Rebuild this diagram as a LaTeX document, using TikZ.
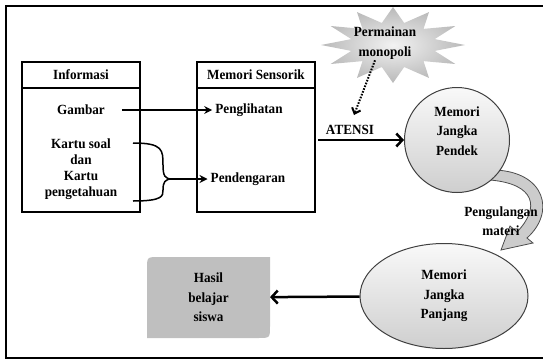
\documentclass[tikz,border=0pt]{standalone}
\usepackage{fontspec}
\setmainfont{Liberation Serif}[FakeStretch=0.94]
\usetikzlibrary{positioning, arrows.meta, shapes.geometric}

\begin{document}
\begin{tikzpicture}
    [
        x=1pt, y=-1pt, node distance=0pt,
        bold_text/.style={font=\bfseries\fontsize{14}{16}\selectfont, align=center, inner sep=1pt},
        mem_text/.style={bold_text, font=\bfseries\fontsize{14}{19.5}\selectfont},
        head_box/.style={rectangle, draw=black, line width=1.5pt, outer sep=0pt, minimum width=118pt, minimum height=26pt, bold_text},
        body_box/.style={rectangle, draw=black, line width=1.5pt, outer sep=0pt, minimum width=118pt, minimum height=124pt},
        mem_node/.style={draw=black!75, line width=1pt, top color=gray!5, bottom color=gray!38, mem_text},
        thin_arrow/.style={-{Stealth[length=8pt, width=8pt]}, line width=1.5pt},
        thick_arrow/.style={-{Straight Barb[length=6pt, width=13pt]}, line width=2.5pt},
    ]
        \useasboundingbox (0,0) rectangle (543,359) ;
        \draw[line width=2pt] (550,6) -- (6,6) -- (6,357.5) -- (550,357.5) ;
        \node[head_box] (info) at (81,75) {Informasi} ;
        \node[body_box] (info_body) [below = of info] {} ;
        \node[head_box] (sensor) at (256,75) {Memori Sensorik} ;
        \node[body_box] (sensor_body) [below = of sensor] {} ;
        \node[bold_text] (gambar) at (81,110) {Gambar} ;
        \node[bold_text] (kartu) at (81,169) {Kartu soal\\dan\\Kartu\\pengetahuan} ;
        \node[bold_text] (penglihatan) at (249,110) {Penglihatan} ;
        \node[bold_text] (pendengaran) at (248,179) {Pendengaran} ;
        \coordinate (brace_top) at (133,143) ;
        \coordinate (brace_bot) at (133,201) ;
        \coordinate (brace_tip) at (172,179) ;
        \draw[thin_arrow, shorten <=16pt, shorten >=2pt] (gambar) -- (penglihatan) ;
        \draw[line width=1.5pt] (brace_top) .. controls (163,143) and (163,150) .. (163,165) .. controls (163,176) and (165,179) .. (brace_tip) ;
        \draw[line width=1.5pt] (brace_bot) .. controls (163,201) and (163,196) .. (163,190) .. controls (163,182) and (165,179) .. (brace_tip) ;
        \draw[thin_arrow, shorten >=2pt] (brace_tip) -- (pendengaran) ;
        \shade[inner color=gray!10, outer color=gray!55] plot[samples at={0,15,...,345}] ({393+72*cos(\x)*(mod(\x,30)==0 ? 1 : 0.6)}, {45+38*sin(\x)*(mod(\x,30)==0 ? 1 : 0.6)}) -- cycle ;
        \node[mem_text] (game) at (385,43) {Permainan\\monopoli} ;
        \filldraw[fill=gray!40, draw=black!70, line width=0.8pt] (495,170) .. controls (545,172) and (556,212) .. (527,238) -- (533,243) -- (501,250) -- (510,226) -- (517,232) .. controls (540,208) and (536,184) .. (490,180) -- cycle ;
        \node[mem_node, circle, minimum size=105pt, label={[mem_text, yshift=9pt]center:{Memori\\Jangka\\Pendek}}] (stm) at (457,140) {} ;
        \node[mem_node, ellipse, minimum width=168pt, minimum height=105pt] (ltm) at (444,296) {Memori\\Jangka\\Panjang} ;
        \node[mem_text] (ulang) at (501,221) {Pengulangan\\materi} ;
        \fill[gray!50] (147,338) -- (147,269) .. controls (147,257) .. (159,257) -- (270,257) -- (270,326) .. controls (270,338) .. (258,338) -- cycle ;
        \node[mem_text, minimum width=123pt, minimum height=81pt, outer sep=0pt] (hasil) at (208.5,297.5) {Hasil\\belajar\\siswa} ;
        \node[bold_text] (atensi) at (350,130) {ATENSI} ;
        \coordinate (atensi_in) at (354,115) ;
        \draw[-{Straight Barb[length=5pt, width=9pt]}, line width=2pt, dash pattern=on 1.6pt off 1.4pt] ([xshift=-10pt]game.south) -- (atensi_in) ;
        \draw[thick_arrow, shorten <=3pt] (stm.west -| sensor_body.east) -- (stm.west) ;
        \draw[thick_arrow] (ltm) -- (hasil) ;
    \end{tikzpicture}
\end{document}
